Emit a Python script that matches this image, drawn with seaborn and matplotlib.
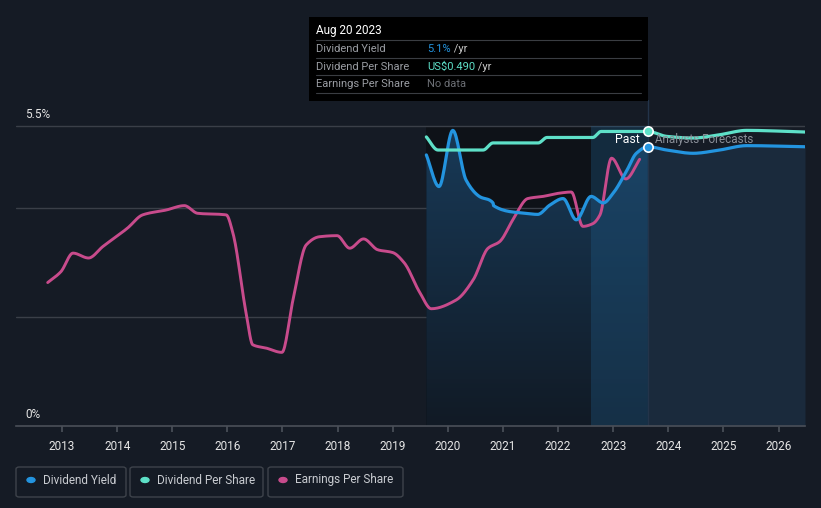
import numpy as np
import pandas as pd
import matplotlib
matplotlib.use("Agg")
import matplotlib.pyplot as plt
import seaborn as sns
from matplotlib.patches import FancyBboxPatch, Rectangle
from matplotlib.colors import LinearSegmentedColormap

# ---------------- data ----------------
dy_year = [2019.61, 2019.84, 2020.09, 2020.33, 2020.57, 2020.82, 2020.83, 2021.41, 2021.63,
           2021.85, 2022.09, 2022.33, 2022.60, 2022.82, 2023.00, 2023.24, 2023.42, 2023.63,
           2023.97, 2024.45, 2024.93, 2025.42, 2026.48]
dy_val = [4.97, 4.39, 5.42, 4.51, 4.21, 4.09, 4.04, 3.90, 3.88,
          4.05, 4.17, 3.78, 4.21, 4.09, 4.27, 4.67, 5.00, 5.12,
          5.06, 5.00, 5.06, 5.14, 5.12]

dps_year = [2019.61, 2019.82, 2020.64, 2020.82, 2021.64, 2021.80, 2022.63, 2022.78, 2023.63,
            2023.97, 2024.45, 2024.93, 2025.42, 2026.48]
dps_val = [5.30, 5.06, 5.06, 5.19, 5.19, 5.29, 5.29, 5.40, 5.40,
           5.31, 5.28, 5.34, 5.42, 5.39]

eps_year = [2012.74, 2012.98, 2013.20, 2013.48, 2013.74, 2014.19, 2014.46, 2014.89, 2015.22,
            2015.46, 2015.98, 2016.10, 2016.34, 2016.46, 2016.70, 2016.99, 2017.19, 2017.43,
            2017.67, 2017.99, 2018.22, 2018.47, 2018.73, 2019.00, 2019.21, 2019.49, 2019.70,
            2020.15, 2020.46, 2020.73, 2020.94, 2021.18, 2021.45, 2021.73, 2022.03, 2022.24,
            2022.45, 2022.63, 2022.76, 2022.97, 2023.23, 2023.48]
eps_val = [2.63, 2.83, 3.17, 3.08, 3.29, 3.63, 3.87, 3.96, 4.04,
           3.90, 3.87, 3.54, 2.07, 1.49, 1.43, 1.35, 2.31, 3.32,
           3.47, 3.49, 3.26, 3.43, 3.23, 3.18, 2.99, 2.45, 2.15,
           2.31, 2.68, 3.26, 3.38, 3.78, 4.17, 4.21, 4.27, 4.29,
           3.66, 3.71, 3.87, 4.91, 4.53, 4.89]

years = list(range(2013, 2027))
y_tick_vals = [0, 5.5]
y_tick_labels = ["0%", "5.5%"]
legend_labels = ["Dividend Yield", "Dividend Per Share", "Earnings Per Share"]

past_start = 2019.61
band_start = 2022.60
now = 2023.63

BG = "#151b25"
BLUE = "#2394df"
TEAL = "#5ee0c8"
PINK = "#c84b8c"


def pchip(xs, ys, n=16):
    """Monotone cubic (Fritsch-Carlson) interpolation through the read points."""
    x = np.asarray(xs, float); y = np.asarray(ys, float)
    h = np.diff(x); d = np.diff(y) / h
    m = np.zeros_like(y)
    m[0], m[-1] = d[0], d[-1]
    for i in range(1, len(y) - 1):
        if d[i - 1] * d[i] <= 0:
            m[i] = 0.0
        else:
            w1 = 2 * h[i] + h[i - 1]; w2 = h[i] + 2 * h[i - 1]
            m[i] = (w1 + w2) / (w1 / d[i - 1] + w2 / d[i])
    ox, oy = [], []
    for i in range(len(x) - 1):
        t = np.linspace(0, 1, n, endpoint=False)
        h00 = 2 * t**3 - 3 * t**2 + 1; h10 = t**3 - 2 * t**2 + t
        h01 = -2 * t**3 + 3 * t**2; h11 = t**3 - t**2
        ox.extend(x[i] + h[i] * t)
        oy.extend(h00 * y[i] + h10 * h[i] * m[i] + h01 * y[i + 1] + h11 * h[i] * m[i + 1])
    ox.append(x[-1]); oy.append(y[-1])
    return np.array(ox), np.array(oy)


sns.set_theme(style="dark")
plt.rcParams["font.family"] = ["Roboto", "DejaVu Sans"]

fig = plt.figure(figsize=(8.21, 5.08), dpi=100)
fig.patch.set_facecolor(BG)
H = 508.0
ax = fig.add_axes([16 / 821, (H - 426) / H, (805 - 16) / 821, (426 - 100) / H])
ax.set_facecolor(BG)
ymax = 5.5 + 26 / 54.5
xmin, xmax = 2012.165, 2026.48

# darker past region
ax.add_patch(Rectangle((past_start, 0), now - past_start, 5.5, facecolor="#0e1218", edgecolor="none", zorder=0))

# gridlines
for g in [2, 4, 5.5]:
    ax.axhline(g, color="#3a3f48", lw=1, zorder=1)

# dividend yield fill (gradient in past, flat in forecast)
sx, sy = pchip(dy_year, dy_val)
past = sx <= now + 1e-9
fut = sx >= now - 1e-9
poly = ax.fill_between(sx[past], 0, sy[past], color="none", lw=0, zorder=1.5)
grad = np.linspace(0, 1, 256).reshape(-1, 1)
cmap = LinearSegmentedColormap.from_list("g", ["#111a25", "#183a58"])
im = ax.imshow(grad, extent=[past_start, now, 0, 5.5], origin="lower", aspect="auto", cmap=cmap, zorder=1.5)
im.set_clip_path(poly.get_paths()[0], transform=ax.transData)
ax.fill_between(sx[fut], 0, sy[fut], color="#1a2a3c", lw=0, zorder=1.5)
# brighter band
ax.axvspan(band_start, now, ymax=5.5 / ymax, color="#1f5a86", alpha=0.35, lw=0, zorder=1.6)
ax.axvline(now, color="#23344a", lw=1, zorder=1.7)
ax.set_xlim(xmin, xmax)
ax.set_ylim(0, ymax)

df_dy = pd.DataFrame({"x": sx, "y": sy})
ex, ey = pchip(eps_year, eps_val)
df_eps = pd.DataFrame({"x": ex, "y": ey})
dsx, dsy = pchip(dps_year, dps_val, n=10)
df_dps = pd.DataFrame({"x": dsx, "y": dsy})

sns.lineplot(data=df_eps, x="x", y="y", color=PINK, lw=2.1, ax=ax, zorder=3, estimator=None, sort=False)
sns.lineplot(data=df_dy, x="x", y="y", color=BLUE, lw=2.3, ax=ax, zorder=4, estimator=None, sort=False)
sns.lineplot(data=df_dps, x="x", y="y", color=TEAL, lw=2.3, ax=ax, zorder=4, estimator=None, sort=False)

# markers at now
ax.scatter([now], [np.interp(now, dps_year, dps_val)], s=45, color=TEAL, edgecolor="white", lw=1.2, zorder=6)
ax.scatter([now], [np.interp(now, dy_year, dy_val)], s=45, color=BLUE, edgecolor="white", lw=1.2, zorder=6)

ax.text(now - 0.14, 5.26, "Past", color="white", fontsize=8.8, ha="right", va="center", zorder=7)
ax.text(now + 0.12, 5.26, "Analysts Forecasts", color="#8a8f98", fontsize=8.4, ha="left", va="center", zorder=7)

# axes styling
ax.set_xticks(years)
ax.set_xticklabels([str(y) for y in years], color="#e6e6e6", fontsize=8.5)
ax.set_yticks([])
ax.set_xlabel(""); ax.set_ylabel("")
ax.tick_params(axis="x", length=4, color="#4a4f58", pad=6, bottom=True)
for s in ["top", "right", "left"]:
    ax.spines[s].set_visible(False)
ax.spines["bottom"].set_color("#4a4f58")
ax.spines["bottom"].set_linewidth(1.2)
ax.grid(False)

for v, lab in zip(y_tick_vals, y_tick_labels):
    ax.text(2012.33, v + 0.21, lab, color="#e6e6e6", fontsize=8.5, ha="left", va="center", zorder=7)

# tooltip
tip = fig.add_axes([309 / 821, (H - 101) / H, (648 - 309) / 821, (101 - 17) / H])
tip.set_facecolor("black")
tip.set_xlim(0, 339); tip.set_ylim(84, 0)
tip.set_xticks([]); tip.set_yticks([])
for s in tip.spines.values():
    s.set_visible(False)
tip.text(7, 14, "Aug 20 2023", color="white", fontsize=8.5, va="center")
rows = [("Dividend Yield", "5.1%", BLUE), ("Dividend Per Share", "US$0.490", TEAL), ("Earnings Per Share", "No data", "#6c6f75")]
for i, (lab, val, col) in enumerate(rows):
    yy = 32 + i * 17.5
    tip.axhline(yy - 8.5, xmin=7 / 339, xmax=332 / 339, color="#3a3d42", lw=0.8)
    tip.text(7, yy, lab, color="#9a9da3", fontsize=8, va="center")
    t = tip.text(118, yy, val, color=col, fontsize=8, va="center")
    if val != "No data":
        tip.annotate(" /yr", xycoords=t, xy=(1, 0.5), va="center", color="#c8c8c8", fontsize=8)
tip.axhline(32 + 2 * 17.5 + 8.5, xmin=7 / 339, xmax=332 / 339, color="#3a3d42", lw=0.8)

# legend boxes
boxes = [(16, 126), (130, 263), (268, 403)]
cols = [BLUE, TEAL, PINK]
for (x0, x1), lab, c in zip(boxes, legend_labels, cols):
    fig.patches.append(FancyBboxPatch((x0 / 821, (H - 497) / H), (x1 - x0) / 821, 30 / H,
                                      boxstyle="round,pad=0,rounding_size=0.004", transform=fig.transFigure,
                                      facecolor=BG, edgecolor="#3e434b", lw=1))
    fig.patches.append(plt.Circle(((x0 + 15) / 821, (H - 480) / H), 4 / 821, transform=fig.transFigure,
                                  color=c))
    fig.text((x0 + 27) / 821, (H - 480) / H, lab, color="#c9ccd1", fontsize=8.5, va="center", ha="left")

fig.savefig("out.png", dpi=100, facecolor=BG)
